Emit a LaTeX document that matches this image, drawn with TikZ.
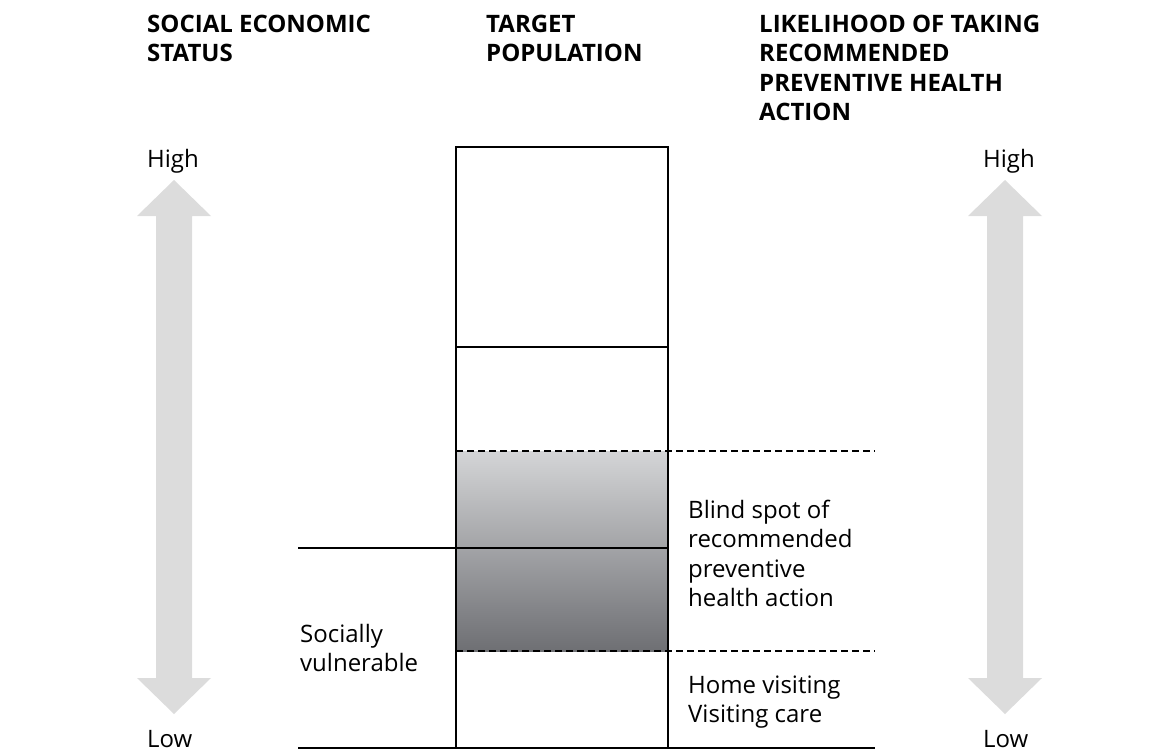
\documentclass[tikz,border=0pt]{standalone}
\usepackage{fontspec}
\setmainfont{Open Sans}
\usepackage{tikz}
\usetikzlibrary{calc}
\definecolor{arrowgray}{RGB}{220,220,220}
\definecolor{shadetop}{RGB}{212,213,215}
\definecolor{shadebot}{RGB}{110,111,115}
\def\updownarrow(#1:#2:#3){\fill[arrowgray] (#1,#2) -- (#1+37,#2+36) -- (#1+18,#2+36) -- (#1+18,#3-36) -- (#1+37,#3-36) -- (#1,#3) -- (#1-37,#3-36) -- (#1-18,#3-36) -- (#1-18,#2+36) -- (#1-37,#2+36) -- cycle;}

\begin{document}
\begin{tikzpicture}[x=1pt,y=-1pt,
		head/.style={anchor=base west,inner sep=0,align=left,font=\fontsize{24}{29.5}\selectfont\bfseries},
		body/.style={anchor=base west,inner sep=0,align=left,font=\fontsize{24}{29.5}\selectfont}]
			%%%%% START %%%%%
			\useasboundingbox (0,0) rectangle (1165,753);
			
			% base anchor sits on the last line
			\node[head] (ses) at (147,61.5) {SOCIAL ECONOMIC\\STATUS};
			\node[head] (target) at (486,61.5) {TARGET\\POPULATION};
			\node[head] (likely) at (759,120.5) {LIKELIHOOD OF TAKING\\RECOMMENDED\\PREVENTIVE HEALTH\\ACTION};
			
			\updownarrow(174:180:714)
			\updownarrow(1005:180:714)
			\node[body] (highL) at (147,167) {High};
			\node[body] (lowL) at (147,747) {Low};
			\node[body] (highR) at (983,167) {High};
			\node[body] (lowR) at (983,747) {Low};
			
			\shade[top color=shadetop, bottom color=shadebot] (456,451) rectangle (668,651);
			
			\draw[line width=1.8pt] (456,147) rectangle (668,748);
			\draw[line width=1.8pt] (456,347) -- (668,347);
			\draw[line width=1.8pt] (298,548) -- (668,548);
			\draw[line width=1.8pt] (298,748) -- (875,748);
			\draw[line width=1.8pt, dash pattern=on 7pt off 4pt] (456,451) -- (875,451);
			\draw[line width=1.8pt, dash pattern=on 7pt off 4pt] (456,651) -- (875,651);
			
			\node[body] (vuln) at (300,671.5) {Socially\\vulnerable};
			\node[body] (blind) at (688,606.5) {Blind spot of\\recommended\\preventive\\health action};
			\node[body] (home) at (688,722.5) {Home visiting\\Visiting care};
			%%%%% END %%%%%
		\end{tikzpicture}
\end{document}
